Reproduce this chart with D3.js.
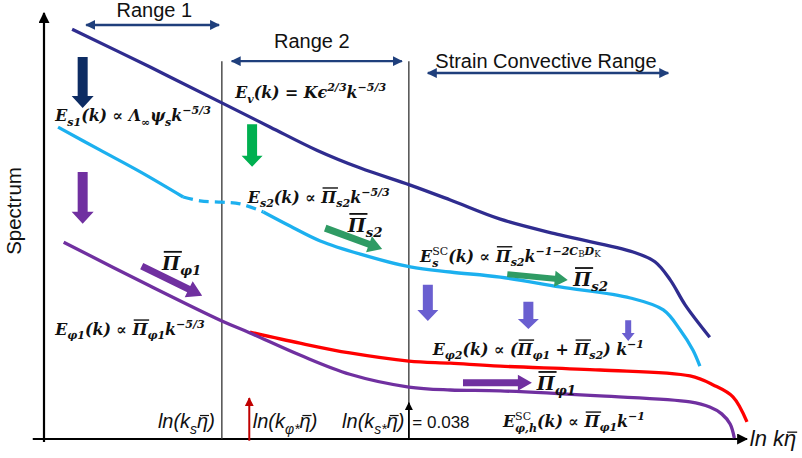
<!DOCTYPE html>
<html>
<head>
<meta charset="utf-8">
<script src="https://cdn.jsdelivr.net/npm/d3@7"></script>
<style>
  html, body { margin: 0; padding: 0; background: #fff; }
  svg { display: block; }
</style>
</head>
<body>
<svg width="802" height="458"></svg>
<script>
// Skitse-enheder: x = ln k·eta (0..100), y = spektrum (0..100)
const navyCurve = [[4.0,96.2],[15.1,87.3],[25.3,78.9],[32.2,73.2],[38.8,67.8],[45.0,63.6],[52.1,59.6],[57.8,56.1],[64.9,51.6],[73.4,47.9],[83.8,43.9],[86.9,41.6],[89.1,37.3],[91.2,31.5],[94.7,23.9]];
const blueCurveA = [[2.0,73.2],[8.0,67.8],[13.7,62.7],[19.8,56.8]];
const blueCurveDash = [[19.8,56.8],[22.2,55.9],[25.3,55.6],[27.9,55.2],[31.2,53.3]];
const blueCurveB = [[31.2,53.3],[35.0,50.0],[39.3,46.5],[45.0,43.4],[52.1,40.4],[57.8,39.2],[64.9,38.0],[73.4,35.7],[83.4,33.1],[88.1,30.3],[90.5,25.6],[92.3,20.9],[93.3,17.1]];
const purpleCurve = [[2.8,46.2],[15.1,35.9],[25.3,27.7],[29.3,24.9],[36.4,19.7],[43.5,15.2],[51.9,12.2],[57.8,11.5],[64.9,11.3],[79.1,10.1],[91.9,8.7],[94.7,7.5],[96.4,5.9],[97.6,3.5],[98.2,0.2]];
const redCurve = [[29.3,25.1],[36.4,22.5],[43.5,20.2],[51.9,18.3],[57.8,17.8],[64.9,17.1],[79.1,16.2],[91.9,14.8],[95.2,12.7],[98.0,9.9],[100,4.0]];

// Overgange mellem omraaderne
const kS = 25.3, kPhiStar = 29.2, kSStar = 51.9;
const guideTop = 88.7;

// Omraader (navn, start, slut, niveau)
const rangeNames = ["Range 1", "Range 2", "Strain Convective Range"];
const rangeSpans = [[6.0, 24.9], [26.7, 50.9], [54.6, 88.8]];
const rangeLevels = [97.2, 88.7, 85.9];
const rangeLabelAt = [[15.7, 99.1], [38.1, 91.8], [71.4, 87.1]];

// Pile: [start], [slut], farve, type
const blockArrows = [
  { from: [5.5, 89.7], to: [5.5, 77.7], color: "#0d2c63", w: 10, hw: 22, hl: 12 },
  { from: [5.5, 62.7], to: [5.5, 50.5], color: "#7030a0", w: 10, hw: 22, hl: 12 },
  { from: [29.6, 73.9], to: [29.6, 63.9], color: "#00b050", w: 10, hw: 21, hl: 11 },
  { from: [54.6, 36.2], to: [54.6, 27.7], color: "#6a5fd0", w: 10, hw: 21, hl: 11 },
  { from: [68.9, 32.2], to: [68.9, 25.8], color: "#6a5fd0", w: 10, hw: 21, hl: 10 },
  { from: [83.1, 27.9], to: [83.1, 23.0], color: "#6a5fd0", w: 6, hw: 13, hl: 8 },
  { from: [13.9, 40.6], to: [22.5, 33.6], color: "#7030a0", w: 7, hw: 18, hl: 15 },
  { from: [40.0, 49.5], to: [48.1, 44.6], color: "#2f9b64", w: 7, hw: 17, hl: 14 },
  { from: [65.9, 38.7], to: [74.5, 37.3], color: "#2f9b64", w: 6, hw: 16, hl: 13 },
  { from: [59.6, 13.2], to: [69.4, 13.2], color: "#7030a0", w: 7, hw: 16, hl: 14 }
];

// Formler: [tekst, type, udseende]
const formulaLabels = [
  { u: 1.6, v: 74.6, segs: [["E"],["s1","sub"],["(k) ∝ "],["Λ"],["∞","sub"],["ψ"],["s","sub"],["k"],["−5/3","sup"]] },
  { u: 27.2, v: 80.0, segs: [["E"],["v","sub"],["(k) = K"],["ϵ"],["2/3","sup"],["k"],["−5/3","sup"]] },
  { u: 29.0, v: 55.4, segs: [["E"],["s2","sub"],["(k) ∝ "],["Π","bar"],["s2","sub"],["k"],["−5/3","sup"]] },
  { u: 53.5, v: 41.6, segs: [["E"],["SC","sup","r"],["s","subU"],["(k) ∝ "],["Π","bar"],["s2","sub"],["k"],["−1−2C","sup"],["B","supsub","r"],["D","sup"],["K","supsub","r"]] },
  { u: 1.6, v: 24.4, segs: [["E"],["φ1","sub"],["(k) ∝ "],["Π","bar"],["φ1","sub"],["k"],["−5/3","sup"]] },
  { u: 55.3, v: 19.7, segs: [["E"],["φ2","sub"],["(k) ∝ ("],["Π","bar"],["φ1","sub"],[" + "],["Π","bar"],["s2","sub"],[") k"],["−1","sup"]] },
  { u: 65.3, v: 2.8, segs: [["E"],["SC","sup","r"],["φ,h","subU"],["(k) ∝ "],["Π","bar"],["φ1","sub"],["k"],["−1","sup"]] }
];
const fluxLabels = [
  { u: 16.8, v: 39.7, segs: [["Π","bar"],["φ1","sub"]] },
  { u: 43.2, v: 48.6, segs: [["Π","bar"],["s2","sub"]] },
  { u: 75.3, v: 35.9, segs: [["Π","bar"],["s2","sub"]] },
  { u: 70.1, v: 11.5, segs: [["Π","bar"],["φ1","sub"]] }
];
const scaleLabels = [
  { u: 16.2, v: 2.6, segs: [["ln(k"],["s","sub"],["η","bar"],[")"]] },
  { u: 29.7, v: 2.6, segs: [["ln(k"],["φ*","sub"],["η","bar"],[")"]] },
  { u: 42.4, v: 2.6, segs: [["ln(k"],["s*","sub"],["η","bar"],[")"]] }
];

const width = 802, height = 458;
const svg = d3.select("svg");

const x = d3.scaleLinear().domain([0, 100]).range([44, 747]);
const y = d3.scaleLinear().domain([0, 100]).range([439, 13]);

// pilespidser
const defs = svg.append("defs");
function marker(id, color, size) {
  defs.append("marker").attr("id", id)
    .attr("viewBox", "0 0 10 10").attr("refX", 9).attr("refY", 5)
    .attr("markerWidth", size).attr("markerHeight", size)
    .attr("markerUnits", "userSpaceOnUse")
    .attr("orient", "auto-start-reverse")
    .append("path").attr("d", "M0,0 L10,5 L0,10 Z").attr("fill", color);
}
marker("headBlack", "#000", 11);
marker("headNavy", "#1f3f7c", 10);
marker("headRed", "#c00000", 9);
marker("headSmall", "#000", 8);

// akser
svg.append("line")
  .attr("x1", x(-1.6)).attr("x2", x(100)).attr("y1", y(0)).attr("y2", y(0))
  .attr("stroke", "#000").attr("stroke-width", 2.2).attr("marker-end", "url(#headBlack)");
svg.append("line")
  .attr("x1", x(0)).attr("x2", x(0)).attr("y1", y(-0.7)).attr("y2", y(100))
  .attr("stroke", "#000").attr("stroke-width", 2.2).attr("marker-end", "url(#headBlack)");

// lodrette overgange
[kS, kSStar].forEach(k => {
  svg.append("line")
    .attr("x1", x(k)).attr("x2", x(k)).attr("y1", y(0)).attr("y2", y(guideTop))
    .attr("stroke", "#333").attr("stroke-width", 1.3);
});

// omraade-pile og navne
rangeNames.forEach((name, i) => {
  svg.append("line")
    .attr("x1", x(rangeSpans[i][0])).attr("x2", x(rangeSpans[i][1]))
    .attr("y1", y(rangeLevels[i])).attr("y2", y(rangeLevels[i]))
    .attr("stroke", "#1f3f7c").attr("stroke-width", 2.4)
    .attr("marker-start", "url(#headNavy)").attr("marker-end", "url(#headNavy)");
  svg.append("text")
    .attr("x", x(rangeLabelAt[i][0])).attr("y", y(rangeLabelAt[i][1]))
    .attr("text-anchor", "middle")
    .attr("font-family", "Liberation Sans, Arial, sans-serif")
    .attr("font-size", 20).attr("fill", "#111")
    .text(name);
});

// kurver
const line = d3.line()
  .x(d => x(d[0])).y(d => y(d[1]))
  .curve(d3.curveCatmullRom.alpha(0.5));

function curve(data, color, dash) {
  svg.append("path").datum(data)
    .attr("d", line)
    .attr("fill", "none").attr("stroke", color)
    .attr("stroke-width", 3.3).attr("stroke-linecap", "butt")
    .attr("stroke-dasharray", dash || null);
}
curve(navyCurve, "#2f2c8f");
curve(blueCurveA, "#1cb0ef");
curve(blueCurveDash, "#1cb0ef", "10,6");
curve(blueCurveB, "#1cb0ef");
curve(redCurve, "#ff0000");
curve(purpleCurve, "#7030a0");

// tykke pile
blockArrows.forEach(a => {
  const x1 = x(a.from[0]), y1 = y(a.from[1]), x2 = x(a.to[0]), y2 = y(a.to[1]);
  const L = Math.hypot(x2 - x1, y2 - y1);
  const ux = (x2 - x1) / L, uy = (y2 - y1) / L, nx = -uy, ny = ux;
  const bx = x2 - ux * a.hl, by = y2 - uy * a.hl;
  const pts = [
    [x1 + nx * a.w / 2, y1 + ny * a.w / 2], [bx + nx * a.w / 2, by + ny * a.w / 2],
    [bx + nx * a.hw / 2, by + ny * a.hw / 2], [x2, y2],
    [bx - nx * a.hw / 2, by - ny * a.hw / 2], [bx - nx * a.w / 2, by - ny * a.w / 2],
    [x1 - nx * a.w / 2, y1 - ny * a.w / 2]
  ];
  svg.append("polygon").attr("points", pts.map(p => p.join(",")).join(" ")).attr("fill", a.color);
});

// tynde pile ved aksen
svg.append("line")
  .attr("x1", x(kPhiStar)).attr("x2", x(kPhiStar)).attr("y1", y(-0.4)).attr("y2", y(9.6))
  .attr("stroke", "#c00000").attr("stroke-width", 2).attr("marker-end", "url(#headRed)");
svg.append("line")
  .attr("x1", x(kSStar)).attr("x2", x(kSStar)).attr("y1", y(0)).attr("y2", y(8.5))
  .attr("stroke", "#000").attr("stroke-width", 1.6).attr("marker-end", "url(#headSmall)");

// formeltekst med sub/superscript og streg over
const kinds = {
  "": { scale: 1, shift: 0 },
  bar: { scale: 1, shift: 0 },
  sub: { scale: 0.7, shift: 0.28 },
  subU: { scale: 0.7, shift: 0.3 },
  sup: { scale: 0.7, shift: -0.45 },
  supsub: { scale: 0.55, shift: -0.3 }
};
function mathText(u, v, segs, opt) {
  const fs = opt.size;
  const x0 = x(u), y0 = y(v);
  const t = svg.append("text").attr("x", x0).attr("y", y0)
    .attr("font-family", opt.family).attr("font-style", "italic")
    .attr("font-weight", opt.weight).attr("font-size", fs).attr("fill", "#111");
  let cur = 0, prevW = 0, extra = 0;
  const bars = [];
  segs.forEach(([str, kind = "", look]) => {
    const k = kinds[kind];
    const span = t.append("tspan").text(str)
      .attr("font-size", fs * k.scale)
      .attr("dy", (k.shift * fs - cur).toFixed(2));
    cur = k.shift * fs;
    if (look === "r") span.attr("font-style", "normal").attr("font-weight", "normal");
    const w = span.node().getComputedTextLength();
    if (kind === "subU") {
      span.attr("dx", -prevW);
      extra = Math.max(0, prevW - w);
    } else if (extra) {
      span.attr("dx", extra);
      extra = 0;
    }
    prevW = w;
    if (kind === "bar") bars.push(span.node());
  });
  bars.forEach(n => {
    const b = n.getBBox();
    svg.append("line")
      .attr("x1", b.x + fs * 0.14).attr("x2", b.x + b.width + fs * 0.04)
      .attr("y1", y0 - fs * opt.barAt).attr("y2", y0 - fs * opt.barAt)
      .attr("stroke", "#111").attr("stroke-width", opt.barW);
  });
}
const serif = "DejaVu Serif, serif";
const sans = "Liberation Sans, Arial, sans-serif";
formulaLabels.forEach(f => mathText(f.u, f.v, f.segs, { size: 15.8, family: serif, weight: "bold", barAt: 0.95, barW: 1.4 }));
fluxLabels.forEach(f => mathText(f.u, f.v, f.segs, { size: 19, family: serif, weight: "bold", barAt: 0.95, barW: 1.8 }));
scaleLabels.forEach(f => mathText(f.u, f.v, f.segs, { size: 20, family: sans, weight: "normal", barAt: 0.62, barW: 1.2 }));
mathText(100.4, -1.6, [["ln k"], ["η", "bar"]], { size: 22, family: sans, weight: "normal", barAt: 0.62, barW: 1.3 });

svg.append("text")
  .attr("x", x(52.4)).attr("y", y(2.6))
  .attr("font-family", sans).attr("font-size", 17).attr("fill", "#111")
  .text("= 0.038");

// y-akse titel
svg.append("text")
  .attr("transform", "translate(21,211) rotate(-90)")
  .attr("text-anchor", "middle")
  .attr("font-family", sans).attr("font-size", 20.5).attr("fill", "#111")
  .text("Spectrum");
</script>
</body>
</html>
